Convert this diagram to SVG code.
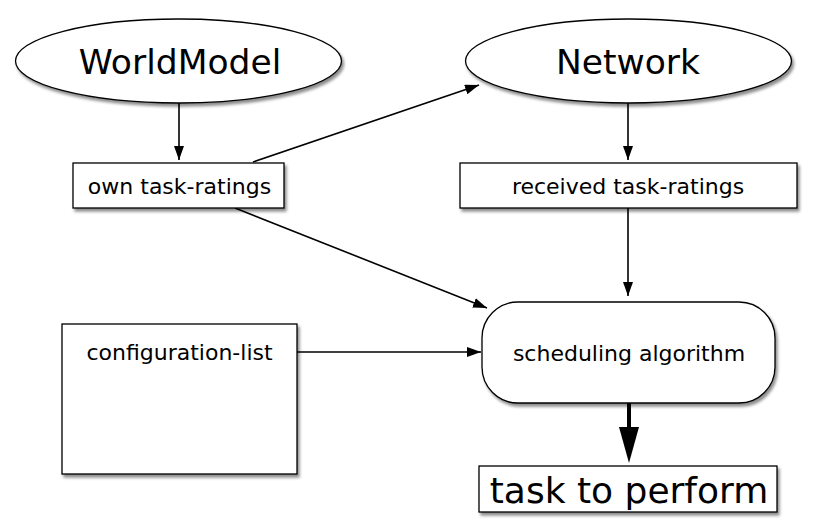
<svg xmlns="http://www.w3.org/2000/svg" width="814" height="530" viewBox="0 0 814 530">
<defs>
<filter id="sh" x="-10%" y="-10%" width="130%" height="140%">
<feDropShadow dx="2" dy="3" stdDeviation="1.8" flood-color="#000" flood-opacity="0.45"/>
</filter>
<marker id="ah" viewBox="0 0 14 10" refX="14" refY="5" markerWidth="14" markerHeight="10" markerUnits="userSpaceOnUse" orient="auto">
<path d="M0,0 L14,5 L0,10 Z" fill="#000"/>
</marker>
<marker id="big" viewBox="0 0 36 20" refX="1" refY="10" markerWidth="36" markerHeight="20" markerUnits="userSpaceOnUse" orient="auto">
<path d="M0,0 L36,10 L0,20 Z" fill="#000"/>
</marker>
</defs>
<style>
.shape{fill:#fff;stroke:#000;stroke-width:1.3;filter:url(#sh)}
.t{font-family:"DejaVu Sans",Verdana,sans-serif;fill:#000;text-anchor:middle}
.s{font-size:22px}
.l{font-size:34.5px}
.c{fill:none;stroke:#000;stroke-width:1.6}
</style>
<rect width="814" height="530" fill="#fff"/>
<g id="connectors">
<line class="c" x1="179" y1="103" x2="179" y2="160" marker-end="url(#ah)"/>
<line class="c" x1="628" y1="103" x2="628" y2="160" marker-end="url(#ah)"/>
<line class="c" x1="253" y1="162" x2="479" y2="85" marker-end="url(#ah)"/>
<line class="c" x1="235" y1="208" x2="487" y2="308" marker-end="url(#ah)"/>
<line class="c" x1="628" y1="208" x2="628" y2="296" marker-end="url(#ah)"/>
<line class="c" x1="297" y1="352" x2="481" y2="352" marker-end="url(#ah)"/>
<line x1="629" y1="403" x2="629" y2="428" stroke="#000" stroke-width="4" marker-end="url(#big)"/>
</g>
<g id="worldmodel">
<ellipse class="shape" cx="178.5" cy="61" rx="163" ry="42"/>
<text class="t l" x="180" y="74">WorldModel</text>
</g>
<g id="network">
<ellipse class="shape" cx="628.5" cy="61" rx="163" ry="42"/>
<text class="t l" x="628" y="74">Network</text>
</g>
<g id="own-task-ratings">
<rect class="shape" x="73" y="163" width="211" height="45"/>
<text class="t s" x="179.5" y="194">own task-ratings</text>
</g>
<g id="received-task-ratings">
<rect class="shape" x="460" y="163" width="337" height="45"/>
<text class="t s" x="628" y="194">received task-ratings</text>
</g>
<g id="scheduling-algorithm">
<rect class="shape" x="482" y="302" width="293" height="101" rx="36" ry="36"/>
<text class="t s" x="629" y="361">scheduling algorithm</text>
</g>
<g id="configuration-list">
<rect class="shape" x="62" y="324" width="235" height="150"/>
<text class="t s" x="179.5" y="360">configuration-list</text>
</g>
<g id="task-to-perform">
<rect class="shape" x="479" y="466" width="298" height="46"/>
<text class="t" style="font-size:36px" x="629" y="503">task to perform</text>
</g>
</svg>
